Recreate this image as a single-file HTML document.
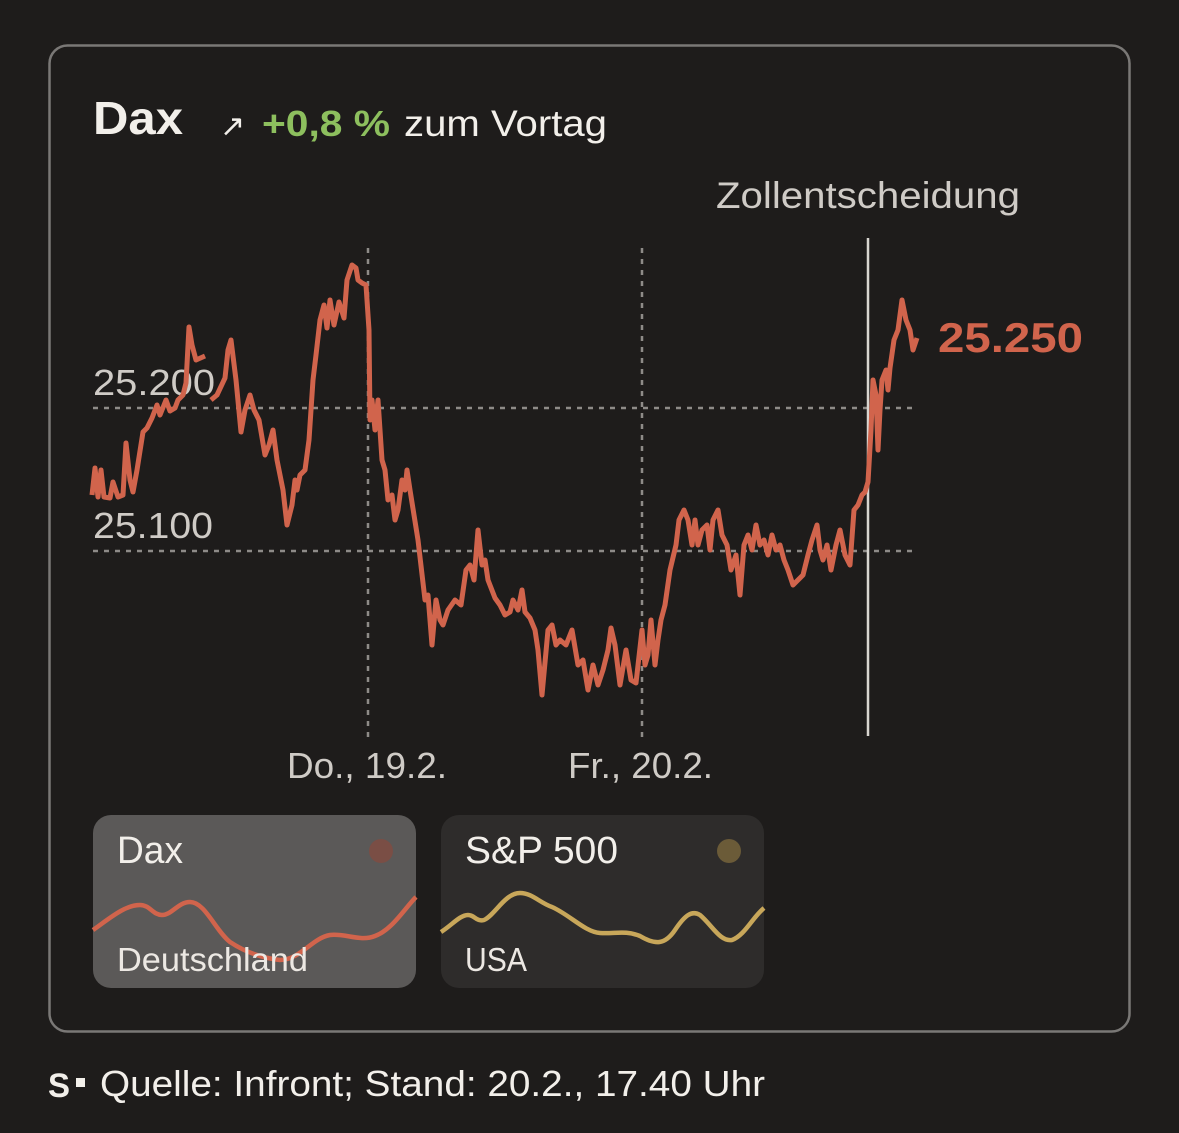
<!DOCTYPE html>
<html><head><meta charset="utf-8"><style>
html,body{margin:0;padding:0;background:#1e1c1b;width:1179px;height:1133px;overflow:hidden;font-family:"Liberation Sans",sans-serif;}
</style></head><body>
<svg width="1179" height="1133" viewBox="0 0 1179 1133" xmlns="http://www.w3.org/2000/svg" style="position:absolute;left:0;top:0" font-family="Liberation Sans,sans-serif">
<rect x="49.5" y="45.5" width="1080" height="986" rx="18" fill="#1e1c1b" stroke="#7a7876" stroke-width="2.5"/>
<text x="93" y="134" fill="#f2efea" font-size="46" font-weight="bold" textLength="90" lengthAdjust="spacingAndGlyphs">Dax</text>
<text x="220" y="136" fill="#f2efea" font-size="30">↗</text>
<text x="262" y="136" fill="#8dbf5e" font-size="36" font-weight="bold" textLength="128" lengthAdjust="spacingAndGlyphs">+0,8 %</text>
<text x="404" y="136" fill="#f2efea" font-size="37" textLength="203" lengthAdjust="spacingAndGlyphs">zum Vortag</text>
<text x="716" y="208" fill="#cfcbc6" font-size="37" textLength="304" lengthAdjust="spacingAndGlyphs">Zollentscheidung</text>
<g stroke="#8e8b88" stroke-width="2.5" stroke-dasharray="5,6">
<line x1="93" y1="408" x2="916" y2="408"/>
<line x1="93" y1="551" x2="916" y2="551"/>
<line x1="368" y1="248" x2="368" y2="738"/>
<line x1="642" y1="248" x2="642" y2="738"/>
</g>
<line x1="868" y1="238" x2="868" y2="736" stroke="#d8d5d0" stroke-width="2.5"/>
<text x="93" y="395" fill="#cfcbc6" font-size="36" textLength="122" lengthAdjust="spacingAndGlyphs">25.200</text>
<text x="93" y="538" fill="#cfcbc6" font-size="36" textLength="120" lengthAdjust="spacingAndGlyphs">25.100</text>
<text x="287" y="778" fill="#cfcbc6" font-size="36" textLength="160" lengthAdjust="spacingAndGlyphs">Do., 19.2.</text>
<text x="568" y="778" fill="#cfcbc6" font-size="36" textLength="145" lengthAdjust="spacingAndGlyphs">Fr., 20.2.</text>
<g fill="none" stroke="#d1644c" stroke-width="5" stroke-linejoin="round">
<polyline points="92,495 95,468 98,497 101,470 104,497 110,498 113,482 118,497 123,495 126,443 130,480 133,492 137,470 143,432 147,428 152,418 157,405 160,415 166,400 170,411 175,408 178,400 183,395 186,383 189,327 192,345 196,360 205,356"/>
<polyline points="211,400 217,395 225,378 228,350 231,340 236,380 241,432 245,410 250,395 254,410 259,420 265,455 269,445 273,430 277,460 283,490 287,525 292,505 295,480 297,490 300,475 305,470 309,440 313,380 316,355 320,320 324,305 327,328 330,300 334,325 339,302 344,318 347,280 352,265 356,268 358,280 362,283 366,285 369,330 370,420 372,400 375,430 378,400 382,460 385,470 388,500 392,495 395,520 398,510 402,480 405,490 407,470 410,490 414,515 418,540 425,600 428,595 432,645 436,600 440,620 443,625 448,610 455,600 461,605 466,570 470,565 474,580 478,530 482,565 485,560 488,580 495,598 500,605 505,615 510,612 513,600 518,610 522,590 525,612 530,618 535,630 538,650 542,695 548,630 552,625 556,645 560,640 566,645 572,630 578,665 583,660 588,690 593,665 598,685 603,670 608,650 611,628 615,645 620,685 626,650 631,680 636,683 642,630 645,665 648,655 651,620 655,665 658,640 661,620 665,605 670,570 676,545 679,520 684,510 688,520 692,545 695,520 698,545 702,530 707,525 710,550 713,520 718,510 722,535 727,545 731,570 736,555 740,595 744,545 748,535 752,550 756,525 760,545 764,540 768,555 772,535 776,550 780,545 784,560 788,570 793,585 798,580 803,575 808,555 812,540 817,525 820,550 823,560 827,545 831,570 836,545 840,530 845,555 850,565 854,510 858,505 862,495 865,492 868,482 871,430 873,380 876,395 878,450 880,410 882,380 886,370 888,390 890,368 894,340 898,330 902,300 906,320 910,330 913,350 917,338"/>
</g>
<text x="938" y="352" fill="#d1644c" font-size="42" font-weight="bold" textLength="145" lengthAdjust="spacingAndGlyphs">25.250</text>
<rect x="93" y="815" width="323" height="173" rx="18" fill="#5b5958"/>
<rect x="441" y="815" width="323" height="173" rx="18" fill="#2e2c2b"/>
<text x="117" y="863" fill="#f2efea" font-size="38" textLength="66" lengthAdjust="spacingAndGlyphs">Dax</text>
<text x="465" y="863" fill="#f2efea" font-size="38" textLength="153" lengthAdjust="spacingAndGlyphs">S&amp;P 500</text>
<circle cx="381" cy="851" r="12" fill="#7a4e45"/>
<circle cx="729" cy="851" r="12" fill="#6b5b38"/>
<path d="M93,930 C110,918 125,905 140,905 C150,905 153,915 162,915 C172,915 178,902 190,902 C205,902 215,930 230,942 C245,952 262,958 280,960 C300,960 312,938 330,935 C345,933 360,942 375,936 C392,930 405,908 416,897" fill="none" stroke="#d1644c" stroke-width="4.5"/>
<path d="M441,932 C452,925 460,915 468,915 C475,915 476,922 484,920 C495,915 505,893 520,893 C532,893 540,903 552,907 C570,915 585,932 600,933 C615,934 625,930 640,936 C655,945 665,945 675,930 C685,915 692,910 700,915 C712,925 720,942 732,940 C745,935 752,918 764,908" fill="none" stroke="#c8a75a" stroke-width="4.5"/>
<text x="117" y="971" fill="#ece8e3" font-size="33" textLength="191" lengthAdjust="spacingAndGlyphs">Deutschland</text>
<text x="465" y="971" fill="#ece8e3" font-size="33" textLength="62" lengthAdjust="spacingAndGlyphs">USA</text>
<text x="48" y="1097" fill="#f2efea" font-size="34" font-weight="bold" textLength="22" lengthAdjust="spacingAndGlyphs">S</text>
<rect x="76" y="1078" width="9" height="9" fill="#f2efea"/>
<text x="100" y="1096" fill="#f2efea" font-size="36" textLength="665" lengthAdjust="spacingAndGlyphs">Quelle: Infront; Stand: 20.2., 17.40 Uhr</text>
</svg>
</body></html>
